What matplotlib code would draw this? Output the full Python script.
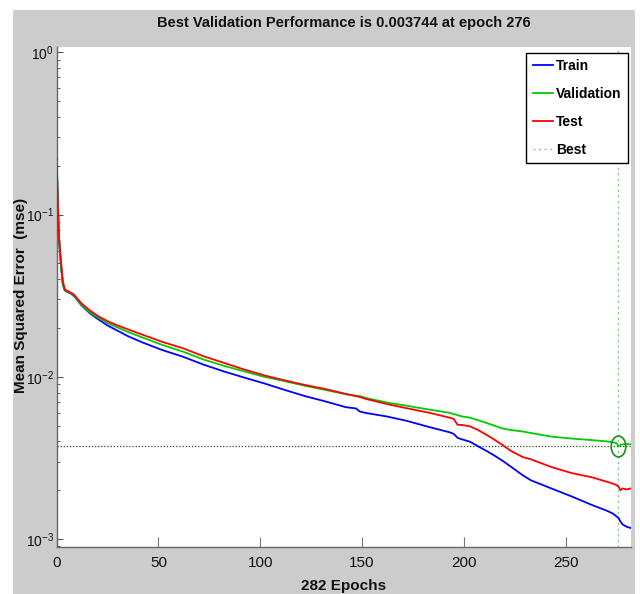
import matplotlib
matplotlib.use("Agg")
import matplotlib.pyplot as plt
from matplotlib.patches import Rectangle
from matplotlib.markers import MarkerStyle
from matplotlib.transforms import Affine2D
from matplotlib.ticker import LogLocator, NullFormatter, FuncFormatter
import math

plt.rcParams['axes.unicode_minus'] = False

NARROW = ['Liberation Sans Narrow', 'Liberation Sans', 'DejaVu Sans']
WIDE = ['Liberation Sans', 'DejaVu Sans']

title_text = "Best Validation Performance is 0.003744 at epoch 276"
xlabel_text = "282 Epochs"
ylabel_text = "Mean Squared Error  (mse)"
series_names = ["Train", "Validation", "Test", "Best"]

best_epoch = 276
best_perf = 0.003744
n_epochs = 282

epochs = [0, 1, 2, 3, 4, 5, 6, 7, 8, 9, 10, 12, 16, 20, 25, 30, 35, 42, 52, 62,
          72, 82, 92, 102, 112, 122, 132, 142, 147, 149, 152, 162, 172, 183, 193,
          195, 197, 199, 203, 207, 211, 215, 219, 223, 229, 233, 243, 253, 263,
          270, 273, 275, 276, 277, 278, 280, 282]

train = [0.22, 0.075, 0.050, 0.037, 0.034, 0.0335, 0.033, 0.0325, 0.0318, 0.031,
         0.0298, 0.0277, 0.0248, 0.0228, 0.0207, 0.0192, 0.0178, 0.0163, 0.0146, 0.0133,
         0.0119, 0.0108, 0.0099, 0.0091, 0.0083, 0.0076, 0.00705, 0.0065, 0.00638, 0.0061,
         0.00598, 0.0057, 0.00535, 0.0049, 0.00455, 0.00445, 0.0042, 0.00412, 0.00398, 0.00373,
         0.0035, 0.00327, 0.00304, 0.0028, 0.00247, 0.0023, 0.00205, 0.00183, 0.00162,
         0.0015, 0.00144, 0.00138, 0.00135, 0.00128, 0.00123, 0.00119, 0.00117]

validation = [0.215, 0.074, 0.051, 0.037, 0.0342, 0.0336, 0.033, 0.0326, 0.032, 0.0312,
              0.0300, 0.0279, 0.0251, 0.0233, 0.0214, 0.0201, 0.0189, 0.0175, 0.0157, 0.0143,
              0.0128, 0.0117, 0.0108, 0.0100, 0.0094, 0.0088, 0.0083, 0.0078, 0.00765, 0.0076,
              0.0074, 0.00695, 0.00663, 0.00628, 0.0060, 0.0059, 0.0058, 0.0057, 0.0056, 0.0054,
              0.0052, 0.0050, 0.0048, 0.0047, 0.0046, 0.0045, 0.00428, 0.00416, 0.00407,
              0.0040, 0.00395, 0.0039, 0.003744, 0.0038, 0.00383, 0.00385, 0.00384]

test = [0.205, 0.076, 0.053, 0.039, 0.0345, 0.034, 0.0335, 0.033, 0.0325, 0.0316,
        0.0305, 0.0285, 0.0258, 0.0238, 0.0220, 0.0207, 0.0196, 0.0182, 0.0164, 0.0150,
        0.0134, 0.0122, 0.0111, 0.0102, 0.0095, 0.0089, 0.0084, 0.00785, 0.0076, 0.0075,
        0.0073, 0.0068, 0.0064, 0.0060, 0.0056, 0.0055, 0.00505, 0.00505, 0.00495, 0.0047,
        0.0044, 0.0041, 0.0038, 0.0035, 0.0032, 0.0031, 0.00278, 0.00255, 0.0024,
        0.00226, 0.0022, 0.00215, 0.0021, 0.0020, 0.00205, 0.00202, 0.00205]

W, H = 640, 594
fig = plt.figure(figsize=(W / 100, H / 100), dpi=100, facecolor='white')
fig.patches.append(Rectangle((13 / W, 0), (635 - 13) / W, (H - 10) / H,
                             transform=fig.transFigure, facecolor='#cccccc',
                             edgecolor='none', zorder=-10))

ax_l, ax_r, ax_t, ax_b = 56.7, 630.7, 47.3, 547.3
ax = fig.add_axes([ax_l / W, (H - ax_b) / H, (ax_r - ax_l) / W, (ax_b - ax_t) / H])
ax.set_facecolor('white')

ax.plot(epochs, train, color='#0000ff', lw=1.3, label=series_names[0], zorder=3)
ax.plot(epochs, validation, color='#00cc00', lw=1.3, label=series_names[1], zorder=3)
ax.plot(epochs, test, color='#ff0000', lw=1.3, label=series_names[2], zorder=3)

ax.axvline(best_epoch, color='#80cc80', lw=1.0, ls=(0, (1.5, 2.5)), label=series_names[3], zorder=2)
ax.axhline(best_perf, color='#1f4f1f', lw=0.9, ls=(0, (1, 1.5)), zorder=2)
ell = MarkerStyle('o', transform=Affine2D().scale(0.7, 1.0))
ax.plot([best_epoch], [best_perf], marker=ell, ms=15, mfc='none', mec='#1e8c1e', mew=1.2,
        ls='none', zorder=4)

ax.set_yscale('log')
ax.set_xlim(0, n_epochs)
ax.set_ylim(0.000889, 1.074)
ax.set_xticks([0, 50, 100, 150, 200, 250])
ax.yaxis.set_major_locator(LogLocator(base=10, numticks=10))
ax.yaxis.set_major_formatter(FuncFormatter(
    lambda v, p: r'$\mathregular{10^{%d}}$' % round(math.log10(v))))
ax.yaxis.set_minor_locator(LogLocator(base=10, subs=range(2, 10), numticks=20))
ax.yaxis.set_minor_formatter(NullFormatter())

ax.tick_params(axis='x', which='major', direction='in', length=7, width=0.8,
               color='#777777', pad=6)
ax.tick_params(axis='y', which='major', direction='in', length=4, width=0.8,
               color='#555555', pad=2)
ax.tick_params(axis='y', which='minor', direction='in', length=2.5, width=0.7,
               color='#555555')
for lab in ax.get_xticklabels():
    lab.set_family(NARROW)
    lab.set_fontsize(11)
    lab.set_color('#111111')
for lab in ax.get_yticklabels():
    lab.set_family(NARROW)
    lab.set_fontsize(10)
    lab.set_color('#111111')

for s in ['top', 'right']:
    ax.spines[s].set_visible(False)
for s in ['left', 'bottom']:
    ax.spines[s].set_color('#666666')
    ax.spines[s].set_linewidth(1.0)

fig.text((ax_l + ax_r) / 2 / W, 1 - 23 / H, title_text, ha='center', va='center',
         family=NARROW, fontsize=10.5, fontweight='bold', color='#111111')
fig.text((ax_l + ax_r) / 2 / W, 1 - 586 / H, xlabel_text, ha='center', va='center',
         family=NARROW, fontsize=11, fontweight='bold', color='#111111')
fig.text(21 / W, 1 - 295 / H, ylabel_text, ha='center', va='center', rotation=90,
         family=WIDE, fontsize=11, fontweight='bold', color='#111111')

leg = ax.legend(loc='upper right', bbox_to_anchor=(628 / W, 1 - 53 / H),
                bbox_transform=fig.transFigure, frameon=True, fancybox=False,
                edgecolor='black', facecolor='white', framealpha=1,
                prop={'family': NARROW, 'weight': 'bold', 'size': 10},
                handlelength=1.5, handletextpad=0.2, borderpad=0.45,
                labelspacing=1.0, borderaxespad=0)
leg.get_frame().set_linewidth(1.0)

fig.savefig('out.png', dpi=100, facecolor=fig.get_facecolor())
